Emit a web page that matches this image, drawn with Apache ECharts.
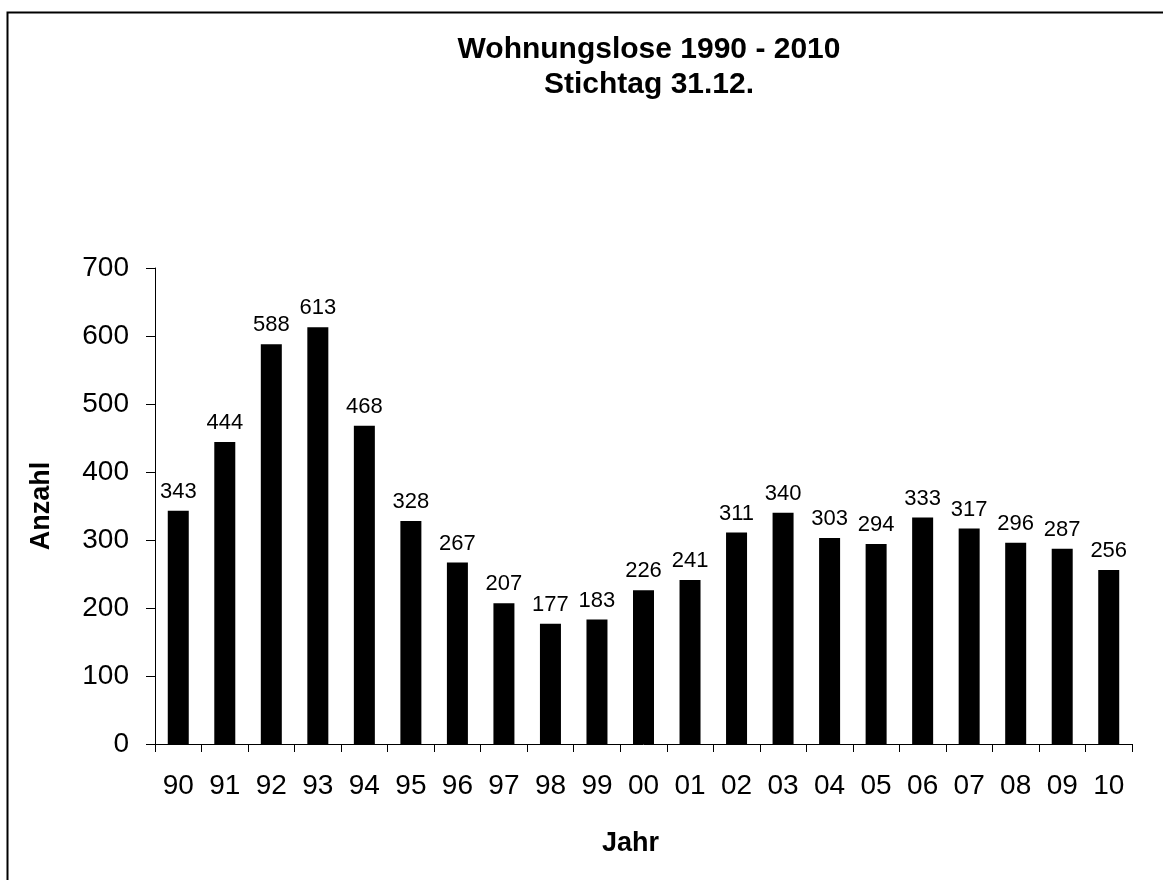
<!DOCTYPE html>
<html lang="de">
<head>
    <meta charset="UTF-8">
    <title>Wohnungslose 1990 - 2010</title>
    <script type="text/javascript" src="https://cdn.jsdelivr.net/npm/echarts@6/dist/echarts.min.js"></script>
    <style>
        html, body { margin: 0; padding: 0; background: #fff; }
    </style>
</head>
<body>
    <div id="main" style="width: 1163px;height:880px;"></div>
    <script type="text/javascript">

        // Jahre (zweistellig) und Anzahl Wohnungslose
        var jahre = ['90', '91', '92', '93', '94', '95', '96', '97', '98', '99', '00',
                     '01', '02', '03', '04', '05', '06', '07', '08', '09', '10'];
        var anzahl = [343, 444, 588, 613, 468, 328, 267, 207, 177, 183, 226,
                      241, 311, 340, 303, 294, 333, 317, 296, 287, 256];
        var yTicks = [0, 100, 200, 300, 400, 500, 600, 700];

        var myChart = echarts.init(document.getElementById('main'));

        var schrift = 'Liberation Sans, Arial, sans-serif';

        var option = {
            backgroundColor: '#fff',
            animation: false,
            textStyle: { fontFamily: schrift, color: '#000' },
            title: {
                text: 'Wohnungslose 1990 - 2010\nStichtag 31.12.',
                left: 644,
                textAlign: 'center',
                top: 27,
                textStyle: {
                    fontFamily: schrift,
                    fontSize: 30,
                    fontWeight: 'bold',
                    lineHeight: 35,
                    color: '#000'
                }
            },
            // Rahmen oben und links
            graphic: [{
                type: 'rect',
                shape: { x: 7.5, y: 12.5, width: 2000, height: 2000 },
                style: { fill: 'none', stroke: '#000', lineWidth: 2 }
            }],
            grid: {
                left: 155,
                right: 31,
                top: 268,
                bottom: 136
            },
            xAxis: {
                type: 'category',
                data: jahre,
                name: 'Jahr',
                nameLocation: 'middle',
                nameGap: 86,
                nameTextStyle: { fontSize: 27, fontWeight: 'bold', color: '#000', padding: [0, 26, 0, 0] },
                axisLine: { lineStyle: { color: '#000', width: 1 } },
                axisTick: { show: true, length: 8, lineStyle: { color: '#000' } },
                axisLabel: { fontSize: 28, color: '#000', margin: 28 }
            },
            yAxis: {
                type: 'value',
                min: yTicks[0],
                max: yTicks[yTicks.length - 1],
                interval: 100,
                name: 'Anzahl',
                nameLocation: 'middle',
                nameRotate: 90,
                nameGap: 100,
                nameTextStyle: { fontSize: 27, fontWeight: 'bold', color: '#000' },
                axisLine: { show: true, lineStyle: { color: '#000', width: 1 } },
                axisTick: { show: true, length: 9, lineStyle: { color: '#000' } },
                axisLabel: { fontSize: 28, color: '#000', margin: 26 },
                splitLine: { show: false }
            },
            series: [{
                name: 'Anzahl',
                type: 'bar',
                data: anzahl,
                barWidth: 21,
                itemStyle: { color: '#000' },
                label: {
                    show: true,
                    position: 'top',
                    distance: 8,
                    fontSize: 22,
                    color: '#000'
                }
            }]
        };

        myChart.setOption(option);

    </script>
</body>
</html>
